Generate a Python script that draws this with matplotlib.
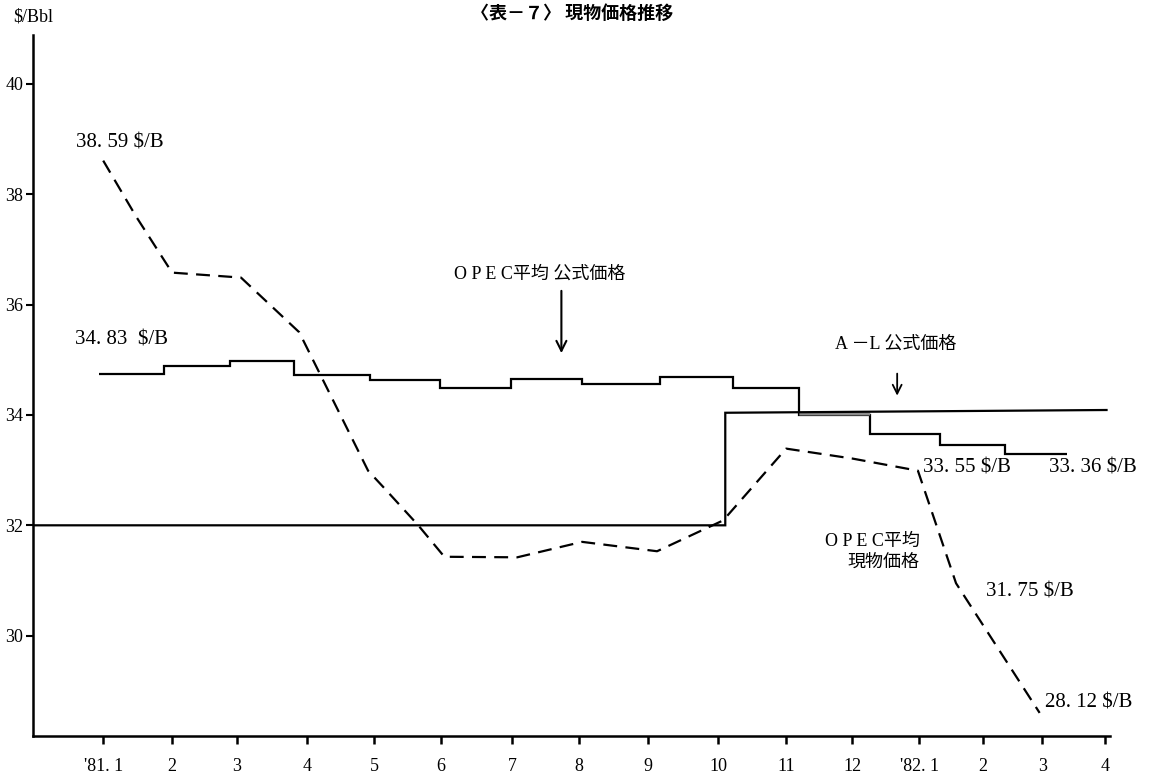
import numpy as np
import matplotlib
matplotlib.use("Agg")
import matplotlib.pyplot as plt

plt.rcParams["font.family"] = ["Liberation Serif", "Noto Sans CJK JP"]
plt.rcParams["lines.scale_dashes"] = False

# x axis: months from '81.1 (0) to '82.4, tick marks as drawn in the original
tick_pos = [0, 1.03, 2.0, 3.05, 4.05, 5.05, 6.11, 7.11, 8.15, 9.19, 10.21, 11.2, 12.2, 13.15, 14.04, 14.98]
tick_labels = ["'81. 1", "2", "3", "4", "5", "6", "7", "8", "9", "10", "11", "12", "'82. 1", "2", "3", "4"]
y_ticks = [30, 32, 34, 36, 38, 40]

# OPEC average official price (monthly steps)
official_edges = [-0.07, 0.91, 1.90, 2.85, 3.99, 5.04, 6.10, 7.16, 8.33, 9.42, 10.40, 11.46, 12.51, 13.48, 14.41]
official_levels = [34.75, 34.88, 34.97, 34.72, 34.64, 34.49, 34.66, 34.56, 34.69, 34.49, 34.00, 33.65, 33.46, 33.30]

# Arabian Light official price
al_x = [-1.05, 9.30, 9.30, 15.0]
al_y = [32.0, 32.0, 34.04, 34.09]

# OPEC average spot price
spot_x = [0.0, 0.49, 1.03, 2.06, 2.93, 3.96, 4.19, 4.71, 5.10, 6.19, 7.16, 8.28, 9.27, 10.21, 11.2, 12.18, 12.75, 14.0]
spot_y = [38.61, 37.60, 36.58, 36.49, 35.50, 32.99, 32.69, 32.0, 31.43, 31.42, 31.70, 31.53, 32.09, 33.39, 33.21, 32.99, 30.95, 28.60]

fig = plt.figure(figsize=(11.53, 7.74), dpi=100)
ax = fig.add_axes([0.0286, 0.049, 0.934, 0.906])

ax.stairs(official_levels, official_edges, baseline=None, color="black", lw=1.6)
ax.plot(al_x, al_y, color="black", lw=1.6, solid_joinstyle="miter")
# overlap of the two official prices in Nov '81
nov = [official_edges[10], official_edges[11]]
ax.fill_between(nov, official_levels[10], np.interp(nov, al_x[2:], al_y[2:]), color="0.55", lw=0)
ax.plot(spot_x, spot_y, color="black", lw=1.6, dashes=(10, 6))

ax.set_xlim(-1.05, 15.05)
ax.set_ylim(28.18, 40.89)
ax.set_xticks(tick_pos)
ax.set_xticklabels(tick_labels)
ax.set_yticks(y_ticks)
ax.spines["top"].set_visible(False)
ax.spines["right"].set_visible(False)
for s in ("left", "bottom"):
    ax.spines[s].set_linewidth(1.8)
ax.tick_params(axis="x", direction="out", length=6, width=1.8, pad=10, labelsize=13)
ax.tick_params(axis="y", direction="out", length=5, width=1.5, pad=2, labelsize=13)

# annotations
lab = dict(fontsize=15, ha="left", va="center")
ax.text(-0.4, 38.93, "38. 59 $/B", **lab)
ax.text(-0.42, 35.35, "34. 83  $/B", **lab)
ax.text(12.26, 33.03, "33. 55 $/B", **lab)
ax.text(14.14, 33.03, "33. 36 $/B", **lab)
ax.text(13.2, 30.79, "31. 75 $/B", **lab)
ax.text(14.08, 28.78, "28. 12 $/B", **lab)

ax.text(5.25, 36.56, "O P E C平均 公式価格", fontsize=13, ha="left", va="center")
ax.annotate("", xy=(6.85, 35.07), xytext=(6.85, 36.3),
            arrowprops=dict(arrowstyle="->", lw=1.5, mutation_scale=18, color="black"))
ax.text(10.94, 35.29, "A －L 公式価格", fontsize=13, ha="left", va="center")
ax.annotate("", xy=(11.87, 34.30), xytext=(11.87, 34.80),
            arrowprops=dict(arrowstyle="->", lw=1.3, mutation_scale=16, color="black"))
ax.text(12.21, 31.52, "O P E C平均\n現物価格", fontsize=13, ha="right", va="center",
        multialignment="right", linespacing=1.25)

fig.text(572 / 1153, 1 - 13 / 774, "〈表－７〉 現物価格推移", ha="center", va="center",
         fontsize=13, fontweight="bold", family=["Noto Sans CJK JP"])
fig.text(13 / 1153, 1 - 17 / 774, "$/Bbl", ha="left", va="center", fontsize=13)

fig.savefig("out.png", dpi=100, facecolor="white")
